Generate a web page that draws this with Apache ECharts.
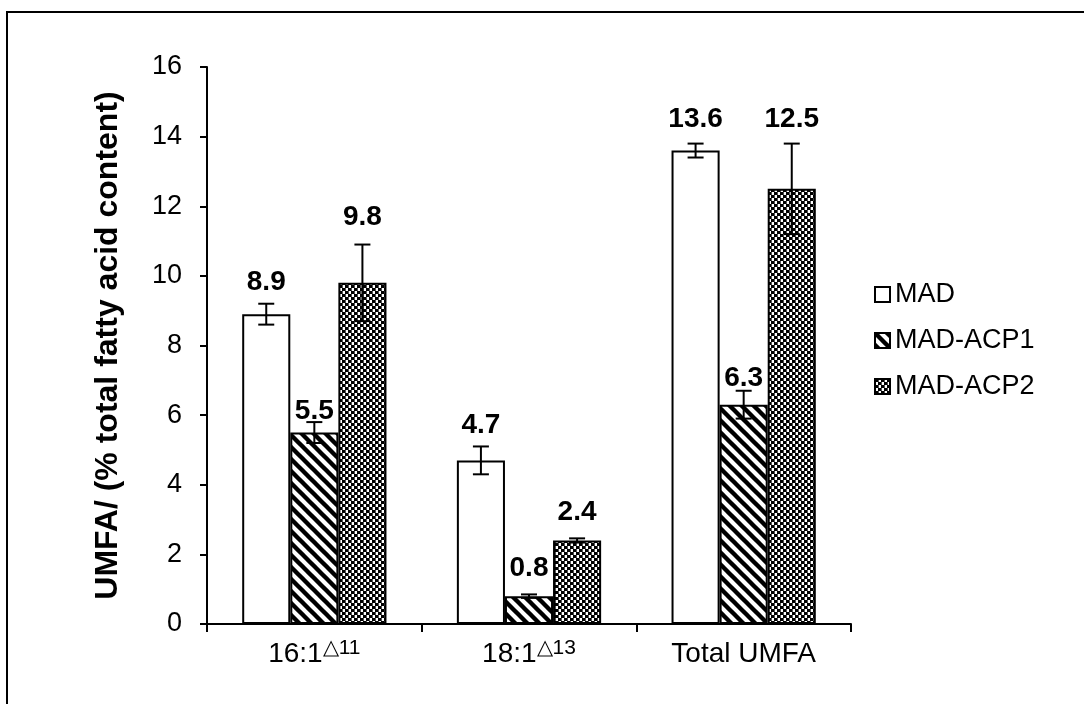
<!DOCTYPE html>
<html>
<head>
<meta charset="utf-8">
<script src="https://cdn.jsdelivr.net/npm/echarts@6/dist/echarts.min.js"></script>
<style>
  html, body { margin: 0; padding: 0; background: #fff; }
  #chart { width: 1084px; height: 704px; }
</style>
</head>
<body>
<div id="chart"></div>
<script>
// Categories with their superscript tails
const categories = ['16:1', '18:1', 'Total UMFA'];
const superscripts = ['△11', '△13', ''];

// Series names and means / standard errors
const seriesNames = ['MAD', 'MAD-ACP1', 'MAD-ACP2'];
const madValues  = [8.9, 4.7, 13.6];
const acp1Values = [5.5, 0.8, 6.3];
const acp2Values = [9.8, 2.4, 12.5];
const madErrors  = [0.3, 0.4, 0.2];
const acp1Errors = [0.3, 0.05, 0.4];
const acp2Errors = [1.1, 0.06, 1.3];

const yTicks = [0, 2, 4, 6, 8, 10, 12, 14, 16];

// Space (px) left between each error-bar cap and its value label
const labelGaps = [[11, 11, 14], [1, 16, 2], [17, 16, 14]];

const FONT = '"Liberation Sans", Arial, sans-serif';
const BAR_FRAC = 0.224;

// Fill patterns
function stripePattern() {
  const c = document.createElement('canvas');
  c.width = 12; c.height = 12;
  const g = c.getContext('2d');
  g.fillStyle = '#fff'; g.fillRect(0, 0, 12, 12);
  g.strokeStyle = '#000'; g.lineWidth = 4.4;
  for (let o = -12; o <= 12; o += 12) {
    g.beginPath(); g.moveTo(o - 2, -2); g.lineTo(o + 14, 14); g.stroke();
  }
  return c;
}
function checkerPattern() {
  const c = document.createElement('canvas');
  c.width = 6; c.height = 6;
  const g = c.getContext('2d');
  g.fillStyle = '#fff'; g.fillRect(0, 0, 6, 6);
  g.fillStyle = '#000';
  g.fillRect(0, 0, 3, 3); g.fillRect(3, 3, 3, 3);
  g.fillStyle = '#555';
  g.fillRect(3, 0, 1, 3); g.fillRect(0, 3, 1, 3);
  return c;
}

const fills = [
  '#ffffff',
  { image: stripePattern(), repeat: 'repeat' },
  { image: checkerPattern(), repeat: 'repeat' }
];

const valueSets = [madValues, acp1Values, acp2Values];
const errorSets = [madErrors, acp1Errors, acp2Errors];

const barSeries = seriesNames.map((name, k) => ({
  name: name,
  type: 'bar',
  barWidth: (BAR_FRAC * 100) + '%',
  barGap: '0%',
  data: valueSets[k],
  itemStyle: { color: fills[k], borderColor: '#000', borderWidth: 2 },
  z: 2
}));

// Error bars and value labels for each series
const errSeries = seriesNames.map((name, k) => ({
  type: 'custom',
  z: 5,
  data: valueSets[k].map((v, i) => [i, v, errorSets[k][i]]),
  renderItem: function (params, api) {
    const idx = api.value(0), v = api.value(1), e = api.value(2);
    const band = api.size([1, 0])[0];
    const cx = api.coord([idx, 0])[0] + (k - 1) * band * BAR_FRAC;
    const yHi = api.coord([idx, v + e])[1];
    const yLo = api.coord([idx, v - e])[1];
    const cap = 8;
    const ls = { stroke: '#000', lineWidth: 2 };
    return {
      type: 'group',
      children: [
        { type: 'line', shape: { x1: cx, y1: yHi, x2: cx, y2: yLo }, style: ls },
        { type: 'line', shape: { x1: cx - cap, y1: yHi, x2: cx + cap, y2: yHi }, style: ls },
        { type: 'line', shape: { x1: cx - cap, y1: yLo, x2: cx + cap, y2: yLo }, style: ls },
        { type: 'text', x: cx, y: yHi - labelGaps[k][idx] + 4,
          style: { text: v.toFixed(1), fill: '#000', font: 'bold 28px ' + FONT,
                   align: 'center', verticalAlign: 'bottom' } }
      ]
    };
  }
}));

const chart = echarts.init(document.getElementById('chart'), null, { renderer: 'canvas' });
chart.setOption({
  backgroundColor: '#fff',
  animation: false,
  graphic: [{
    type: 'polyline',
    shape: { points: [[7, 704], [7, 12], [1084, 12]] },
    style: { stroke: '#000', lineWidth: 2, fill: null }
  }],
  grid: { left: 207, right: 233, top: 67, bottom: 80 },
  legend: {
    data: seriesNames,
    orient: 'vertical',
    left: 869,
    top: 276,
    itemWidth: 15,
    itemHeight: 15,
    itemGap: 19,
    icon: 'rect',
    textStyle: { fontFamily: FONT, fontSize: 27, color: '#000' }
  },
  xAxis: {
    type: 'category',
    data: categories,
    axisLine: { lineStyle: { color: '#000', width: 2 } },
    axisTick: { show: true, length: 8, lineStyle: { color: '#000', width: 2 } },
    axisLabel: {
      interval: 0,
      margin: 14,
      formatter: function (val, i) {
        return superscripts[i] ? val + '{sup|' + superscripts[i] + '}' : val;
      },
      fontFamily: FONT, fontSize: 28, color: '#000', lineHeight: 32,
      rich: { sup: { fontFamily: FONT, fontSize: 21, color: '#000', verticalAlign: 'top', lineHeight: 21 } }
    }
  },
  yAxis: {
    type: 'value',
    min: 0, max: 16, interval: 2,
    name: 'UMFA/ (% total fatty acid content)',
    nameLocation: 'middle',
    nameGap: 83,
    nameTextStyle: { fontFamily: FONT, fontSize: 32, fontWeight: 'bold', color: '#000' },
    splitLine: { show: false },
    axisLine: { show: true, lineStyle: { color: '#000', width: 2 } },
    axisTick: { show: true, length: 7, lineStyle: { color: '#000', width: 2 } },
    axisLabel: {
      margin: 25,
      fontFamily: FONT, fontSize: 27, color: '#000',
      formatter: v => (yTicks.indexOf(v) >= 0 ? String(v) : '')
    }
  },
  series: barSeries.concat(errSeries)
});
</script>
</body>
</html>
